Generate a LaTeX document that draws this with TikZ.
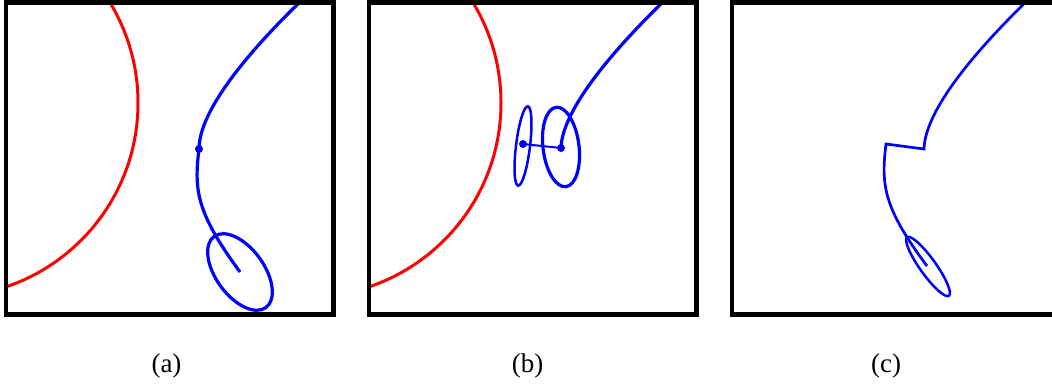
\documentclass[tikz,border=0pt]{standalone}
\usepackage{fontspec}
\setmainfont{Liberation Serif}
\usepackage{xcolor}

\tikzset{
  panel/.style={line width=4.5pt},
  wall/.style={red,line width=3pt},
  orbit/.style={blue,line width=3.2pt},
  caption/.style={font=\fontsize{27}{30}\selectfont}
}

\begin{document}
\begin{tikzpicture}[x=1pt,y=1pt]
\useasboundingbox (0,0) rectangle (1052,-385);
% (a)
\begin{scope}
\clip (6,-2.5) rectangle (333.5,-314.5);
\draw[wall] (-56,-103) circle (194);
\coordinate (pa) at (199,-149);
\draw[orbit] (304,2) .. controls (250,-50) and (199,-110) .. (pa)
  .. controls (194,-190) and (196,-212) .. (240,-272);
\fill[blue] (pa) circle (4);
\draw[orbit,rotate around={-54:(240,-272)}] (240,-272) ellipse (44 and 24);
\end{scope}
\draw[panel] (6,-2.5) rectangle (333.5,-314.5);
\node[caption] (capa) at (166.5,-366) {(a)};
% (b)
\begin{scope}[xshift=363]
\clip (6,-2.5) rectangle (333.5,-314.5);
\draw[wall] (-56,-103) circle (194);
\coordinate (rb) at (198,-148);
\coordinate (lb) at (160,-144);
\draw[orbit] (304,2) .. controls (250,-50) and (199,-110) .. (rb);
\draw[blue,line width=2pt] (lb) -- (rb);
\fill[blue] (rb) circle (4);
\fill[blue] (lb) circle (4);
\draw[orbit,rotate around={7:(198,-147)}] (198,-147) ellipse (18 and 40);
\draw[blue,line width=2.5pt,rotate around={-7:(160,-146)}] (160,-146) ellipse (7 and 40);
\end{scope}
\draw[panel] (369,-2.5) rectangle (696.5,-314.5);
\node[caption] (capb) at (527.5,-366) {(b)};
% (c)
\begin{scope}[xshift=726]
\clip (6,-2.5) rectangle (333.5,-314.5);
\coordinate (rc) at (198,-149);
\coordinate (lc) at (160,-144);
\draw[blue,line width=2.7pt,line join=miter] (304,2) .. controls (250,-50) and (199,-110) .. (rc)
  -- (lc) .. controls (155,-185) and (157,-207) .. (201,-266);
\draw[blue,line width=2.5pt,rotate around={-54.5:(202,-266.5)}] (202,-266.5) ellipse (36 and 8);
\end{scope}
\draw[panel] (732,-2.5) rectangle (1059.5,-314.5);
\node[caption] (capc) at (886,-366) {(c)};
\end{tikzpicture}
\end{document}
